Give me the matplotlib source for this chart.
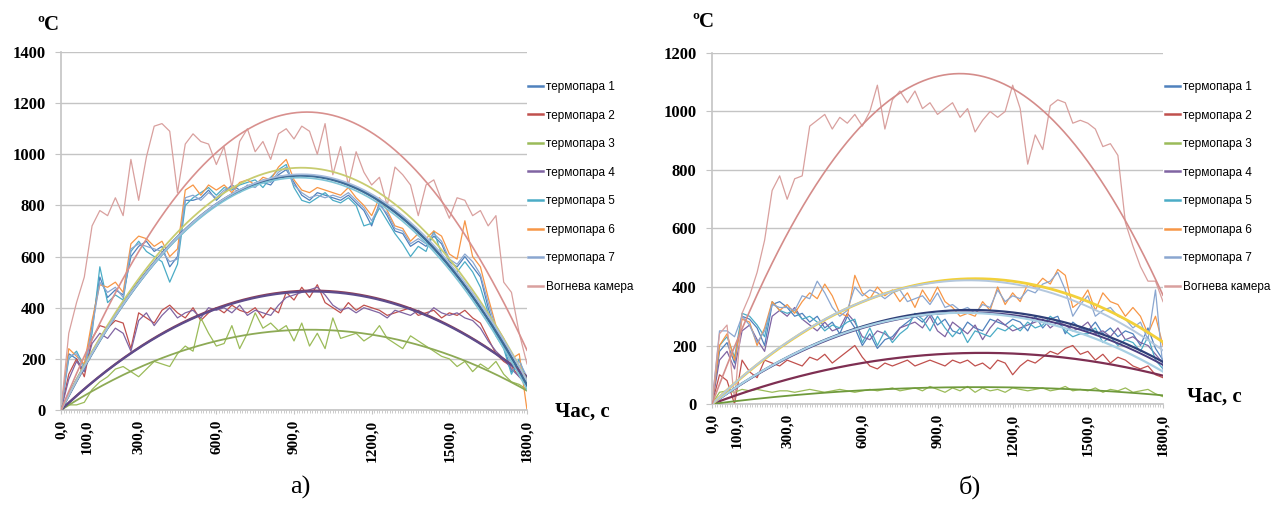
import numpy as np
import matplotlib
matplotlib.use('Agg')
import matplotlib.pyplot as plt
from matplotlib.ticker import MultipleLocator

# time grid, s (one reading every 30 s)
t = np.arange(0, 1801, 30)

names = ['термопара 1', 'термопара 2', 'термопара 3', 'термопара 4',
         'термопара 5', 'термопара 6', 'термопара 7', 'Вогнева камера']
colors = ['#4F81BD', '#C0504D', '#9BBB59', '#8064A2',
          '#4BACC6', '#F79646', '#8AA6D0', '#D9A09E']

x_ticks = [0, 100, 300, 600, 900, 1200, 1500, 1800]
x_tick_labels = ['0,0', '100,0', '300,0', '600,0', '900,0', '1200,0', '1500,0', '1800,0']

# ---- panel a) ----
t1_a = [0, 220, 200, 150, 330, 520, 440, 470, 450, 600,
        640, 660, 620, 640, 560, 600, 820, 820, 830, 860,
        820, 850, 880, 860, 870, 880, 890, 880, 920, 940,
        890, 840, 820, 850, 840, 830, 820, 840, 810, 780,
        720, 810, 760, 700, 690, 640, 660, 640, 680, 650,
        580, 560, 600, 560, 520, 400, 300, 250, 150, 170,
        120]
t2_a = [0, 140, 200, 130, 280, 330, 320, 350, 340, 240,
        380, 360, 340, 390, 410, 380, 360, 400, 350, 380,
        400, 380, 410, 390, 380, 400, 360, 400, 380, 460,
        430, 480, 440, 490, 420, 400, 380, 420, 390, 410,
        400, 390, 370, 380, 390, 400, 370, 380, 390, 360,
        380, 370, 390, 360, 340, 280, 220, 190, 170, 130,
        100]
t3_a = [0, 20, 20, 30, 80, 110, 130, 160, 170, 150,
        130, 160, 190, 180, 170, 220, 250, 230, 360, 300,
        250, 260, 330, 240, 300, 380, 320, 340, 310, 330,
        270, 340, 250, 300, 240, 360, 280, 290, 300, 270,
        290, 330, 280, 260, 240, 290, 270, 250, 230, 210,
        200, 170, 190, 150, 180, 160, 190, 140, 110, 100,
        80]
t4_a = [0, 120, 190, 150, 260, 300, 280, 320, 300, 230,
        350, 380, 330, 370, 400, 360, 380, 390, 360, 400,
        390, 400, 380, 410, 370, 390, 380, 370, 410, 440,
        450, 460, 470, 480, 450, 410, 390, 400, 380, 400,
        390, 380, 360, 390, 380, 370, 390, 370, 400, 380,
        370, 380, 360, 350, 320, 270, 230, 200, 160, 130,
        100]
t5_a = [0, 200, 230, 170, 300, 560, 420, 450, 430, 620,
        660, 620, 600, 580, 500, 570, 800, 830, 850, 870,
        840, 870, 860, 880, 890, 900, 870, 910, 940, 960,
        870, 820, 810, 830, 850, 820, 810, 830, 800, 720,
        730, 790, 740, 690, 650, 600, 640, 620, 700, 610,
        560, 540, 580, 540, 480, 380, 290, 240, 140, 200,
        110]
t6_a = [0, 240, 210, 180, 350, 490, 480, 500, 460, 650,
        680, 670, 640, 660, 600, 630, 860, 880, 840, 880,
        860, 880, 850, 890, 900, 880, 910, 900, 950, 980,
        900, 860, 850, 870, 860, 850, 840, 870, 830, 800,
        760, 830, 780, 720, 710, 660, 690, 670, 700, 680,
        610, 590, 740, 600, 560, 440, 330, 280, 200, 220,
        0]
t7_a = [0, 210, 220, 160, 320, 500, 460, 480, 440, 630,
        650, 640, 630, 620, 580, 590, 830, 840, 820, 850,
        830, 860, 870, 850, 880, 870, 900, 890, 930, 950,
        880, 850, 830, 840, 830, 840, 830, 850, 820, 790,
        740, 800, 770, 710, 700, 650, 670, 650, 690, 660,
        590, 570, 610, 580, 530, 420, 320, 270, 170, 190,
        130]
cam_a = [0, 300, 420, 520, 720, 780, 760, 830, 760, 980,
         820, 990, 1110, 1120, 1090, 850, 1040, 1080, 1050, 1040,
         960, 1030, 870, 1050, 1100, 1010, 1050, 980, 1080, 1100,
         1060, 1110, 1090, 1000, 1120, 920, 1030, 880, 1010, 930,
         880, 910, 800, 950, 920, 880, 760, 880, 900, 820,
         750, 830, 820, 760, 780, 720, 760, 500, 460, 300,
         180]

# ---- panel б) ----
t1_b = [0, 180, 210, 140, 300, 290, 260, 200, 340, 350,
        330, 300, 310, 280, 300, 260, 280, 240, 300, 260,
        200, 240, 190, 220, 230, 260, 280, 300, 280, 310,
        270, 290, 250, 240, 280, 260, 250, 290, 280, 270,
        290, 280, 250, 300, 260, 290, 300, 240, 280, 260,
        250, 280, 240, 260, 230, 250, 240, 200, 260, 190,
        150]
t2_b = [0, 100, 80, 0, 150, 110, 90, 150, 140, 130,
        150, 140, 130, 160, 150, 170, 140, 160, 180, 200,
        160, 130, 120, 140, 130, 140, 150, 130, 140, 150,
        140, 130, 150, 140, 150, 130, 140, 120, 150, 140,
        100, 130, 150, 140, 160, 180, 170, 190, 200, 170,
        180, 150, 170, 140, 160, 150, 130, 120, 130, 100,
        90]
t3_b = [0, 40, 45, 40, 50, 45, 50, 45, 40, 45,
        45, 40, 45, 50, 45, 40, 45, 50, 45, 40,
        45, 50, 45, 50, 55, 45, 50, 55, 45, 60,
        50, 40, 55, 45, 60, 40, 55, 45, 50, 40,
        55, 50, 45, 50, 55, 45, 50, 60, 45, 50,
        45, 55, 40, 50, 45, 55, 40, 45, 50, 35,
        25]
t4_b = [0, 150, 180, 120, 250, 270, 220, 180, 300, 320,
        300, 330, 290, 270, 250, 280, 250, 260, 310, 280,
        230, 220, 250, 240, 220, 260, 270, 280, 260, 300,
        250, 230, 280, 260, 240, 270, 220, 260, 290, 270,
        250, 260, 270, 280, 290, 260, 280, 270, 250, 260,
        280, 240, 250, 230, 260, 220, 230, 210, 200, 170,
        140]
t5_b = [0, 200, 230, 160, 310, 300, 270, 230, 350, 320,
        310, 320, 290, 300, 280, 250, 270, 260, 280, 290,
        210, 260, 200, 250, 210, 240, 260, 310, 290, 250,
        300, 260, 230, 260, 210, 250, 240, 230, 260, 250,
        270, 250, 280, 260, 270, 300, 280, 250, 230, 240,
        240, 260, 210, 230, 200, 220, 210, 180, 230, 150,
        120]
t6_b = [0, 200, 240, 150, 290, 280, 200, 260, 350, 320,
        340, 310, 350, 380, 360, 410, 370, 310, 300, 440,
        380, 360, 400, 370, 390, 350, 380, 330, 390, 350,
        400, 350, 330, 300, 310, 300, 350, 320, 400, 340,
        380, 350, 410, 400, 430, 410, 460, 440, 330, 350,
        390, 320, 380, 350, 340, 300, 330, 300, 240, 300,
        200]
t7_b = [0, 250, 250, 230, 300, 270, 210, 250, 340, 330,
        330, 320, 370, 360, 420, 380, 330, 300, 320, 400,
        370, 390, 380, 360, 380, 390, 350, 360, 370, 340,
        380, 330, 340, 320, 330, 310, 340, 330, 390, 350,
        370, 360, 390, 380, 410, 420, 450, 390, 300, 340,
        370, 300, 320, 330, 300, 290, 260, 280, 220, 390,
        120]
cam_b = [0, 240, 270, 10, 310, 370, 450, 560, 730, 780,
         700, 770, 780, 950, 970, 990, 940, 980, 960, 990,
         950, 1000, 1090, 940, 1040, 1070, 1030, 1070, 1010, 1030,
         990, 1010, 1030, 980, 1010, 930, 970, 1000, 980, 1000,
         1090, 1010, 820, 920, 870, 1020, 1040, 1030, 960, 970,
         960, 940, 880, 890, 850, 620, 540, 470, 420, 420,
         350]

# trendline colours (order 2 polynomial through the origin, like Excel)
trend_a = ['#3E6C98', '#8E3F57', '#8DAA55', '#5E4C8C',
           '#7FC4D6', '#C8CC70', '#A7BCDC', '#D8908E']
trend_b = ['#2F3F78', '#7E2F52', '#6F9A3C', '#4B3F80',
           '#A8D0E4', '#F2D03A', '#B4C8DE', '#D48C8A']
trend_w_a = [2.0, 1.6, 1.3, 1.6, 1.2, 1.3, 1.2, 1.2]
trend_w_b = [1.6, 1.6, 1.3, 1.4, 1.6, 2.0, 1.4, 1.2]

serif = 'Liberation Serif'


def trend(vals, tt):
    # y = a*t^2 + b*t, intercept fixed at 0
    A = np.column_stack([t ** 2.0, t])
    a, b = np.linalg.lstsq(A, np.asarray(vals, float), rcond=None)[0]
    return a * tt ** 2 + b * tt


def draw_panel(ax, data, trend_colors, trend_widths, ymax):
    for vals, c, name in zip(data, colors, names):
        ax.plot(t, vals, color=c, lw=0.9, label=name, zorder=2)
    tt = np.linspace(0, 1800, 361)
    for vals, tc, w in zip(data, trend_colors, trend_widths):
        ax.plot(tt, trend(vals, tt), color=tc, lw=w, zorder=3)

    ax.set_xlim(0, 1800)
    ax.set_ylim(0, ymax)
    ax.set_yticks(np.arange(0, ymax + 1, 200))
    ax.set_xticks(x_ticks)
    ax.set_xticklabels(x_tick_labels, rotation=90)
    ax.xaxis.set_minor_locator(MultipleLocator(10))
    ax.yaxis.grid(True, color='#C4C4C4', lw=1.0)
    ax.set_axisbelow(True)
    for s in ['top', 'right']:
        ax.spines[s].set_visible(False)
    for s in ['left', 'bottom']:
        ax.spines[s].set_color('#C4C4C4')
        ax.spines[s].set_linewidth(1.2)
    ax.tick_params(axis='both', which='both', color='#C4C4C4')
    ax.tick_params(axis='y', length=4, pad=7)
    ax.tick_params(axis='x', which='major', length=3, pad=4)
    ax.tick_params(axis='x', which='minor', length=2.5)
    for lab in ax.get_xticklabels():
        lab.set_fontfamily(serif)
        lab.set_fontweight('bold')
        lab.set_fontsize(11)
    for lab in ax.get_yticklabels():
        lab.set_fontfamily(serif)
        lab.set_fontweight('bold')
        lab.set_fontsize(12)


W, H = 1271, 508
fig = plt.figure(figsize=(W / 100, H / 100), dpi=100)

ax_a = fig.add_axes([61 / W, 1 - 410 / H, 466 / W, 358 / H])
draw_panel(ax_a, [t1_a, t2_a, t3_a, t4_a, t5_a, t6_a, t7_a, cam_a], trend_a, trend_w_a, 1400)

ax_b = fig.add_axes([712 / W, 1 - 404 / H, 451 / W, 351 / H])
draw_panel(ax_b, [t1_b, t2_b, t3_b, t4_b, t5_b, t6_b, t7_b, cam_b], trend_b, trend_w_b, 1200)

for ax, lx in [(ax_a, 528), (ax_b, 1165)]:
    leg = ax.legend(loc='upper left', bbox_to_anchor=(lx / W, 1 - 81 / H),
                    bbox_transform=fig.transFigure, frameon=False,
                    prop={'family': 'Liberation Sans', 'size': 8.5},
                    handlelength=1.3, handletextpad=0.25, labelspacing=1.4,
                    borderpad=0, borderaxespad=0)
    for h in leg.legend_handles:
        h.set_linewidth(1.8)

# axis captions and panel letters
fig.text(37 / W, 1 - 25 / H, 'ºC', family=serif, weight='bold', size=15, va='center')
fig.text(692 / W, 1 - 22 / H, 'ºC', family=serif, weight='bold', size=15, va='center')
fig.text(555 / W, 1 - 412 / H, 'Час, с', family=serif, weight='bold', size=15, va='center')
fig.text(1187 / W, 1 - 397 / H, 'Час, с', family=serif, weight='bold', size=15, va='center')
fig.text(300 / W, 1 - 487 / H, 'а)', family=serif, size=19, ha='center', va='center')
fig.text(970 / W, 1 - 487 / H, 'б)', family=serif, size=19, ha='center', va='center')

fig.savefig('out.png', dpi=100)
